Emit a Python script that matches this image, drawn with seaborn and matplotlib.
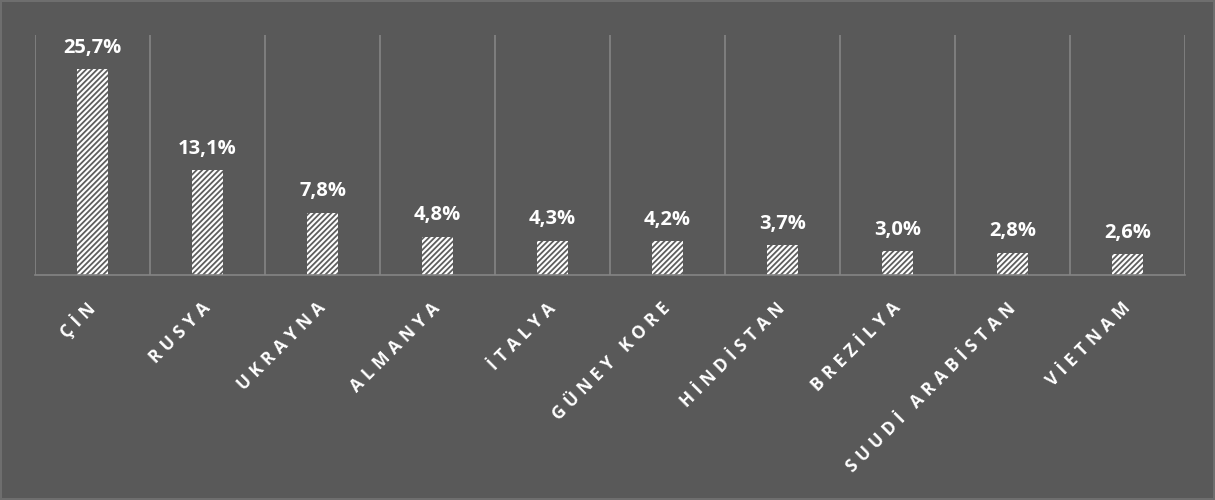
import matplotlib
matplotlib.use("Agg")
import matplotlib.pyplot as plt
import seaborn as sns
import pandas as pd
import numpy as np

# Data
countries = ["ÇİN", "RUSYA", "UKRAYNA", "ALMANYA", "İTALYA", "GÜNEY KORE",
             "HİNDİSTAN", "BREZİLYA", "SUUDİ ARABİSTAN", "VİETNAM"]
shares = [25.7, 13.1, 7.8, 4.8, 4.3, 4.2, 3.7, 3.0, 2.8, 2.6]
value_labels = ["25,7%", "13,1%", "7,8%", "4,8%", "4,3%", "4,2%", "3,7%", "3,0%", "2,8%", "2,6%"]

sns.set_style("white")
plt.rcParams['font.family'] = ['Open Sans', 'DejaVu Sans']
plt.rcParams['hatch.linewidth'] = 1.3

bg = '#595959'
grid_col = '#858585'

df = pd.DataFrame({'country': countries, 'share': shares})

fig = plt.figure(figsize=(12.15, 5), dpi=100)
fig.patch.set_facecolor(bg)
fig.patch.set_edgecolor('#6e6e6e')
fig.patch.set_linewidth(1.5)
ax = fig.add_axes([35 / 1215, 225 / 500, 1150 / 1215, 240 / 500])
ax.set_facecolor(bg)

sns.barplot(data=df, x='country', y='share', ax=ax, width=0.27,
            color='white', edgecolor='#5e5e5e', linewidth=0, hatch='//////')
for bar in ax.patches:
    bar.set_facecolor('white')
    bar.set_edgecolor('#5e5e5e')
    bar.set_linewidth(0)

ax.set_ylim(0, 30)
ax.set_xlim(-0.5, len(countries) - 0.5)
ax.set_yticks([])
ax.set_xlabel('')
ax.set_ylabel('')

# vertical separators between categories
ax.set_xticks(np.arange(-0.5, len(countries), 1.0), minor=True)
ax.grid(True, which='minor', axis='x', color=grid_col, linewidth=1.2)
ax.tick_params(axis='x', which='both', length=0)

for s in ['top', 'left', 'right']:
    ax.spines[s].set_visible(False)
ax.spines['bottom'].set_color(grid_col)
ax.spines['bottom'].set_linewidth(1.2)

spaced = ['\u2009\u200a'.join(c for c in name) for name in countries]
ax.set_xticks(range(len(countries)))
ax.set_xticklabels(spaced, rotation=45, ha='right', va='center', rotation_mode='anchor',
                   color='white', fontsize=12.5, fontweight='bold')
ax.tick_params(axis='x', which='major', pad=22)

for i, (v, lab) in enumerate(zip(shares, value_labels)):
    ax.text(i, v + 1.4, lab, ha='center', va='bottom', color='white',
            fontsize=14.5, fontweight='bold')

fig.savefig('out.png', dpi=100, facecolor=bg, edgecolor=fig.get_edgecolor())
